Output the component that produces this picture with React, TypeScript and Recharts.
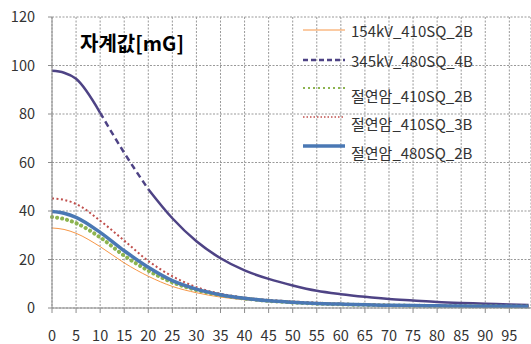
import { LineChart, Line, XAxis, YAxis, CartesianGrid } from "recharts";

// distance (x) and field values [mG]
const distance = [0, 2.5, 5, 10, 15, 20, 25, 30, 35, 40, 45, 50, 55, 60, 65, 70, 75, 80, 85, 90, 95, 99];
const kv154_410_2B = [33, 32.4, 30.8, 25.3, 18.6, 13.1, 8.9, 6.3, 4.5, 3.4, 2.6, 2.1, 1.7, 1.4, 1.2, 1.0, 0.9, 0.8, 0.7, 0.65, 0.6, 0.55];
const kv345_480_4B = [97.8, 97, 94.5, 80.5, 64, 49, 37, 27.5, 20.5, 15.5, 12, 9.3, 7.1, 5.7, 4.6, 3.7, 3.1, 2.5, 2.1, 1.8, 1.4, 1.2];
const ins_410_2B = [37.5, 36.7, 35, 29.1, 21.6, 15.4, 10.6, 7.4, 5.3, 3.9, 2.9, 2.3, 1.8, 1.5, 1.3, 1.1, 0.95, 0.85, 0.8, 0.7, 0.65, 0.6];
const ins_410_3B = [45.2, 44.6, 42.9, 36, 27.8, 19.4, 13.1, 8.6, 5.9, 4.3, 3.3, 2.7, 2.2, 1.8, 1.5, 1.3, 1.1, 1.0, 0.9, 0.8, 0.7, 0.65];
const ins_480_2B = [39.8, 39.1, 37.4, 31.2, 23.6, 16.8, 11.3, 7.8, 5.5, 4.0, 3.0, 2.4, 1.9, 1.6, 1.3, 1.1, 1.0, 0.9, 0.8, 0.75, 0.7, 0.65];

const xTicks = [0, 5, 10, 15, 20, 25, 30, 35, 40, 45, 50, 55, 60, 65, 70, 75, 80, 85, 90, 95];
const yTicks = [0, 20, 40, 60, 80, 100, 120];

const FONT = "'Noto Sans CJK KR', 'Noto Sans', sans-serif";
const C_ORANGE = "#F79646";
const C_PURPLE = "#4E4385";
const C_GREEN = "#8DB450";
const C_RED = "#C0504D";
const C_BLUE = "#4A78B4";

// Excel drew the 345kV line dashed only where its segments were steep (about 10..20)
const data = distance.map((x, i) => ({
  x,
  a: kv154_410_2B[i],
  s345: x <= 10 || x >= 20 ? kv345_480_4B[i] : null,
  d345: x >= 10 && x <= 20 ? kv345_480_4B[i] : null,
  g: ins_410_2B[i],
  r: ins_410_3B[i],
  b: ins_480_2B[i],
}));

const legend = [
  { name: "154kV_410SQ_2B", y: 30, ty: 30, stroke: C_ORANGE, width: 1, dash: undefined },
  { name: "345kV_480SQ_4B", y: 60, ty: 60, stroke: C_PURPLE, width: 2.5, dash: "5 3" },
  { name: "절연암_410SQ_2B", y: 88, ty: 95, stroke: C_GREEN, width: 2, dash: "2 3" },
  { name: "절연암_410SQ_3B", y: 117, ty: 123, stroke: C_RED, width: 1.5, dash: "1.5 2" },
  { name: "절연암_480SQ_2B", y: 146, ty: 152, stroke: C_BLUE, width: 3.5, dash: undefined },
];

export default function App() {
  return (
    <div style={{ position: "absolute", left: 0, top: 0, width: 531, height: 344, background: "#fff", fontFamily: FONT }}>
      <LineChart width={531} height={344} data={data} margin={{ top: 17, right: 0, left: 0, bottom: 0 }}>
        <CartesianGrid stroke="#999" strokeDasharray="2 1.5" />
        <XAxis
          dataKey="x"
          type="number"
          domain={[0, 99.5]}
          ticks={xTicks}
          interval={0}
          height={36}
          stroke="#8c8c8c"
          tickSize={5}
          tickMargin={18}
          tick={{ fill: "#333", fontSize: 14.5, fontFamily: FONT }}
        />
        <YAxis
          domain={[0, 120]}
          ticks={yTicks}
          width={52}
          stroke="#8c8c8c"
          tickSize={4}
          tickMargin={13}
          tick={{ fill: "#333", fontSize: 14.5, fontFamily: FONT }}
        />
        <Line dataKey="a" type="monotone" stroke={C_ORANGE} strokeWidth={1} dot={false} isAnimationActive={false} />
        <Line dataKey="s345" type="monotone" stroke={C_PURPLE} strokeWidth={2.5} dot={false} connectNulls={false} isAnimationActive={false} />
        <Line dataKey="d345" type="monotone" stroke={C_PURPLE} strokeWidth={2.5} strokeDasharray="6 4" dot={false} isAnimationActive={false} />
        <Line dataKey="g" type="monotone" stroke={C_GREEN} strokeWidth={4} strokeDasharray="0.1 5" strokeLinecap="round" dot={false} isAnimationActive={false} />
        <Line dataKey="r" type="monotone" stroke={C_RED} strokeWidth={2} strokeDasharray="2 2.5" dot={false} isAnimationActive={false} />
        <Line dataKey="b" type="monotone" stroke={C_BLUE} strokeWidth={3.5} dot={false} isAnimationActive={false} />
      </LineChart>
      <div style={{ position: "absolute", left: 80, top: 33, fontSize: 20, fontWeight: 700, lineHeight: "20px", color: "#000" }}>
        자계값[mG]
      </div>
      <svg width={531} height={344} style={{ position: "absolute", left: 0, top: 0, pointerEvents: "none" }}>
        {legend.map((l) => (
          <g key={l.name}>
            <line x1={303} x2={345} y1={l.y} y2={l.y} stroke={l.stroke} strokeWidth={l.width} strokeDasharray={l.dash} />
            <text x={351} y={l.ty} dominantBaseline="central" fontSize={15} fill="#333" fontFamily={FONT}>
              {l.name}
            </text>
          </g>
        ))}
      </svg>
    </div>
  );
}
